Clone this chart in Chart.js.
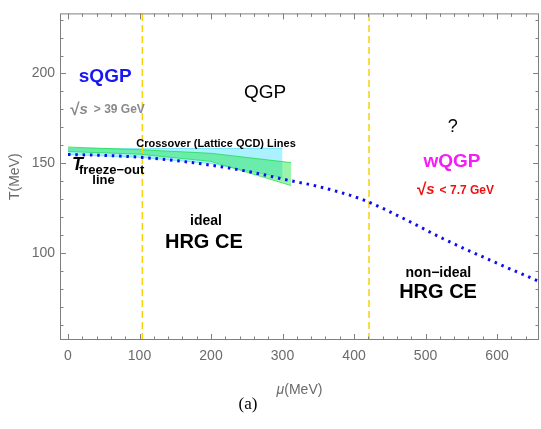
<!DOCTYPE html>
<html>
<head>
<meta charset="utf-8">
<script src="https://cdn.jsdelivr.net/npm/chart.js@4.4.1/dist/chart.umd.min.js"></script>
<style>
  html, body { margin: 0; padding: 0; background: #fff; }
  #wrap { width: 541px; height: 429px; }
</style>
</head>
<body>
<div id="wrap"><canvas id="chart" width="541" height="429"></canvas></div>
<script>
// freeze-out curve (blue dots)
const freezeMu = [0, 50, 100, 170, 250, 310, 350, 413, 470, 524, 590, 659];
const freezeT = [154.8, 154.3, 153.3, 150.5, 145.5, 140.3, 137, 129.5, 119, 108, 96, 84];

// lattice QCD crossover bands
const cyanMu = [0, 100, 200, 300];
const cyanUpper = [158, 158.1, 158.2, 158.3];
const cyanLower = [154.8, 153.3, 149.8, 142];
const greenMu = [0, 100, 200, 312];
const greenUpper = [159, 157.5, 155.5, 150.3];
const greenLower = [156.5, 155, 151, 137.5];

// vertical dashed lines
const dividerMu = [104, 421];

const xTicks = [0, 100, 200, 300, 400, 500, 600];
const yTicks = [100, 150, 200];
const xRange = [-11.2, 658.7];
const yRange = [51.4, 233.5];

const FONT = '"Liberation Sans", Arial, sans-serif';

const pts = (xs, ys) => xs.map((v, i) => ({ x: v, y: ys[i] }));
const vline = v => [{ x: v, y: yRange[0] }, { x: v, y: yRange[1] }];

// text runs placed in data coords
const notes = [
  { mu: 52, t: 198.4, align: 'center', runs: [['sQGP', 'bold 19px', '#1717f5']] },
  { mu: 3, t: 179.7, align: 'left', runs: [['√', 'bold 17px', '#8a8a8a'], ['s', 'italic bold 15px', '#8a8a8a', 6], ['> 39 GeV', 'bold 12px', '#8a8a8a']] },
  { mu: 275.5, t: 189.2, align: 'center', runs: [['QGP', '19px', '#000']] },
  { mu: 538, t: 170, align: 'center', runs: [['?', '18px', '#000']] },
  { mu: 537, t: 151, align: 'center', runs: [['wQGP', 'bold 19px', '#f51cf5']] },
  { mu: 488, t: 134.9, align: 'left', runs: [['√', 'bold 17px', '#f01010'], ['s', 'italic bold 15px', '#f01010', 5], ['< 7.7 GeV', 'bold 12px', '#f01010']] },
  { mu: 207, t: 160.8, align: 'center', runs: [['Crossover (Lattice QCD) Lines', 'bold 11px', '#000']] },
  { mu: 5.6, t: 148.9, align: 'left', runs: [['T', 'italic bold 18px', '#000']] },
  { mu: 61, t: 145.7, align: 'center', runs: [['freeze−out', 'bold 13px', '#000']] },
  { mu: 49.7, t: 140.3, align: 'center', runs: [['line', 'bold 13px', '#000']] },
  { mu: 193, t: 117.6, align: 'center', runs: [['ideal', 'bold 14px', '#000']] },
  { mu: 190, t: 106, align: 'center', runs: [['HRG CE', 'bold 20px', '#000']] },
  { mu: 518, t: 88.9, align: 'center', runs: [['non−ideal', 'bold 14px', '#000']] },
  { mu: 517.5, t: 78.1, align: 'center', runs: [['HRG CE', 'bold 20px', '#000']] }
];

const framePlugin = {
  id: 'frame',
  afterDatasetsDraw(chart) {
    const { ctx, chartArea: a, scales: { x, y } } = chart;
    ctx.save();
    ctx.strokeStyle = '#808080';
    ctx.lineWidth = 1;
    ctx.strokeRect(a.left + 0.5, a.top + 0.5, a.right - a.left - 1, a.bottom - a.top - 1);
    ctx.beginPath();
    for (let v = 0; v <= 640; v += 20) {
      const len = v % 100 === 0 ? 6 : 3.5;
      const px = Math.round(x.getPixelForValue(v)) + 0.5;
      ctx.moveTo(px, a.bottom); ctx.lineTo(px, a.bottom - len);
      ctx.moveTo(px, a.top); ctx.lineTo(px, a.top + len);
    }
    for (let v = 60; v <= 230; v += 10) {
      const len = v % 50 === 0 ? 6 : 3.5;
      const py = Math.round(y.getPixelForValue(v)) + 0.5;
      ctx.moveTo(a.left, py); ctx.lineTo(a.left + len, py);
      ctx.moveTo(a.right, py); ctx.lineTo(a.right - len, py);
    }
    ctx.stroke();

    // axis titles
    ctx.fillStyle = '#6b6b6b';
    ctx.textBaseline = 'middle';
    ctx.save();
    ctx.translate(15, (a.top + a.bottom) / 2);
    ctx.rotate(-Math.PI / 2);
    ctx.textAlign = 'center';
    ctx.font = '14px ' + FONT;
    ctx.fillText('T(MeV)', 0, 0);
    ctx.restore();
    const cx = (a.left + a.right) / 2;
    ctx.font = 'italic 14px ' + FONT;
    const w1 = ctx.measureText('μ').width;
    ctx.font = '14px ' + FONT;
    const w2 = ctx.measureText('(MeV)').width;
    ctx.textAlign = 'left';
    ctx.font = 'italic 14px ' + FONT;
    ctx.fillText('μ', cx - (w1 + w2) / 2, 390);
    ctx.font = '14px ' + FONT;
    ctx.fillText('(MeV)', cx - (w1 + w2) / 2 + w1, 390);
    ctx.fillStyle = '#000';
    ctx.textAlign = 'center';
    ctx.font = '17px "Liberation Serif", "DejaVu Serif", serif';
    ctx.fillText('(a)', 248, 405);

    // annotations
    for (const n of notes) {
      let total = 0;
      const widths = n.runs.map(r => {
        ctx.font = r[1] + ' ' + FONT;
        const w = ctx.measureText(r[0]).width + (r[3] || 0);
        total += w;
        return w;
      });
      let px = x.getPixelForValue(n.mu);
      const py = y.getPixelForValue(n.t);
      if (n.align === 'center') px -= total / 2;
      ctx.textAlign = 'left';
      n.runs.forEach((r, i) => {
        ctx.font = r[1] + ' ' + FONT;
        ctx.fillStyle = r[2];
        ctx.fillText(r[0], px, py);
        px += widths[i];
      });
    }
    ctx.restore();
  }
};

new Chart(document.getElementById('chart'), {
  type: 'line',
  data: {
    datasets: [
      {
        data: pts(freezeMu, freezeT),
        borderColor: '#0d0df0',
        borderWidth: 3,
        borderDash: [2.5, 4.8],
        pointRadius: 0,
        cubicInterpolationMode: 'monotone',
        fill: false
      },
      ...dividerMu.map(v => ({
        data: vline(v),
        borderColor: '#f5d30a',
        borderWidth: 1.5,
        borderDash: [7, 4],
        pointRadius: 0,
        fill: false
      })),
      {
        data: pts(greenMu, greenUpper),
        borderColor: 'rgba(20,220,60,0.7)',
        backgroundColor: 'rgba(30,230,70,0.45)',
        borderWidth: 1,
        pointRadius: 0,
        fill: '+1'
      },
      {
        data: pts(greenMu, greenLower),
        borderColor: 'rgba(20,220,60,0.7)',
        borderWidth: 1,
        pointRadius: 0,
        fill: false
      },
      {
        data: pts(cyanMu, cyanUpper),
        borderColor: 'rgba(60,220,250,0.6)',
        backgroundColor: 'rgba(70,225,255,0.45)',
        borderWidth: 1,
        pointRadius: 0,
        fill: '+1'
      },
      {
        data: pts(cyanMu, cyanLower),
        borderColor: 'rgba(60,220,250,0.6)',
        borderWidth: 1,
        pointRadius: 0,
        fill: false
      }
    ]
  },
  options: {
    responsive: false,
    animation: false,
    devicePixelRatio: 1,
    layout: { padding: { top: 3, right: 2, left: 0, bottom: 0 } },
    plugins: { legend: { display: false }, tooltip: { enabled: false } },
    scales: {
      x: {
        type: 'linear',
        min: xRange[0],
        max: xRange[1],
        afterBuildTicks: s => { s.ticks = xTicks.map(v => ({ value: v })); },
        afterFit: s => { s.height = 89; },
        grid: { display: false, drawTicks: false },
        border: { display: false },
        ticks: { color: '#6b6b6b', font: { size: 14, family: FONT }, padding: 8, maxRotation: 0, autoSkip: false }
      },
      y: {
        type: 'linear',
        min: yRange[0],
        max: yRange[1],
        afterBuildTicks: s => { s.ticks = yTicks.map(v => ({ value: v })); },
        afterFit: s => { s.width = 60; },
        grid: { display: false, drawTicks: false },
        border: { display: false },
        ticks: { color: '#6b6b6b', font: { size: 14, family: FONT }, padding: 5, autoSkip: false }
      }
    }
  },
  plugins: [framePlugin]
});
</script>
</body>
</html>
